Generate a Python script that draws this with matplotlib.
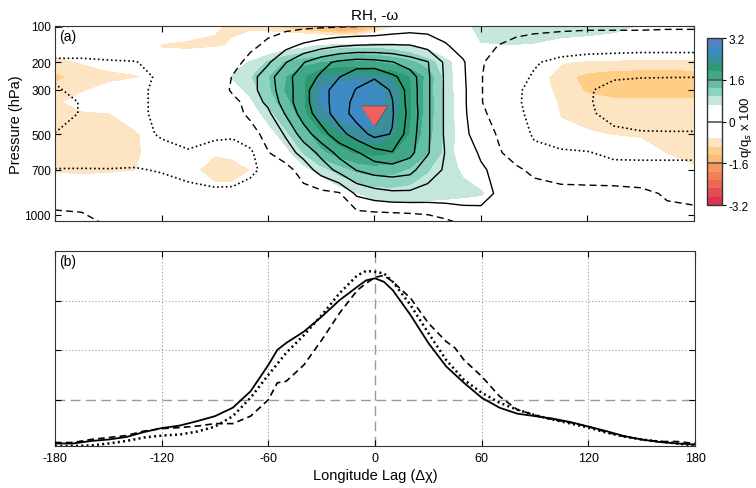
import numpy as np
import matplotlib
matplotlib.use('Agg')
import matplotlib.pyplot as plt

plt.rcParams['font.family'] = ['Liberation Sans', 'DejaVu Sans']
plt.rcParams['axes.unicode_minus'] = False

# ---- panel (a): composite on longitude lag / pressure grid ----
lon = [-180, -165, -150, -135, -120, -105, -90, -80, -70, -60, -50, -40, -30, -20, -10,
       0, 10, 20, 30, 40, 50, 60, 70, 80, 90, 105, 120, 135, 150, 165, 180]
pres = [100, 150, 200, 250, 300, 350, 400, 500, 600, 700, 850, 1050]

# RH anomaly (q/q_s x 100), one row per pressure level
rh = [
    [0, 0, 0, -0.1, -0.3, -0.45, -0.6, -0.7, -0.8, -0.95, -1.15, -1.35, -1.62, -1.95, -1.9,
     -1.3, -0.8, -0.5, -0.3, 0.1, 0.5, 0.8, 0.85, 0.88, 0.88, 0.86, 0.85, 0.8, 0.6, 0.2, 0],
    [-0.45, -0.35, -0.2, -0.35, -0.68, -0.72, -0.7, -0.6, -0.2, 0.2, 0.4, 0.5, 0.68, 0.8, 0.85,
     0.85, 0.8, 0.68, 0.5, 0.3, 0.45, 0.6, 0.62, 0.62, 0.6, 0.48, 0.4, 0.3, 0.1, 0.05, 0],
    [-0.75, -0.62, -0.5, -0.45, -0.4, -0.35, -0.1, 0.4, 0.68, 1.0, 1.3, 1.5, 1.58, 1.65, 1.65,
     1.62, 1.5, 1.35, 1.1, 0.75, 0.4, 0.2, 0.1, 0, -0.2, -0.6, -0.75, -0.78, -0.8, -0.8, -0.8],
    [-1.05, -0.85, -0.75, -0.68, -0.55, -0.3, 0.2, 0.68, 0.92, 1.25, 1.58, 1.85, 2.28, 2.4, 2.45,
     2.35, 2.2, 1.9, 1.5, 0.8, 0.4, 0.2, 0.1, 0, -0.4, -0.85, -1.05, -1.1, -1.12, -1.12, -1.1],
    [-0.85, -0.7, -0.5, -0.35, -0.3, -0.2, 0.2, 0.45, 0.75, 1.2, 1.62, 1.85, 2.6, 2.8, 2.85,
     2.75, 2.4, 1.95, 1.45, 0.85, 0.35, 0.25, 0.15, 0.05, -0.35, -0.8, -1.0, -1.1, -1.12, -1.12, -1.1],
    [-0.75, -0.45, -0.3, -0.2, -0.15, -0.1, 0.1, 0.3, 0.55, 1.05, 1.5, 1.85, 2.6, 2.82, 2.85,
     2.8, 2.4, 1.95, 1.45, 0.9, 0.35, 0.2, 0.1, 0, -0.2, -0.72, -0.85, -0.9, -0.9, -0.9, -0.9],
    [-0.8, -0.7, -0.66, -0.45, -0.3, -0.15, 0.05, 0.2, 0.4, 0.8, 1.3, 1.8, 2.4, 2.75, 2.82,
     2.7, 2.35, 1.95, 1.45, 0.9, 0.35, 0.2, 0.1, 0, -0.1, -0.68, -0.78, -0.8, -0.8, -0.82, -0.85],
    [-0.85, -0.85, -0.85, -0.7, -0.4, -0.2, -0.2, 0.1, 0.25, 0.45, 0.85, 1.4, 1.85, 2.15, 2.4,
     2.5, 2.3, 1.88, 1.4, 0.88, 0.4, 0.2, 0.1, 0, 0, -0.5, -0.6, -0.66, -0.68, -0.75, -0.8],
    [-0.8, -0.85, -0.82, -0.72, -0.4, -0.35, -0.6, -0.55, -0.2, 0.3, 0.5, 0.98, 1.5, 1.75, 1.95,
     2.0, 1.94, 1.68, 1.3, 0.85, 0.4, 0.3, 0.1, 0, 0, -0.2, -0.3, -0.4, -0.5, -0.66, -0.75],
    [-0.7, -0.72, -0.7, -0.66, -0.35, -0.5, -0.85, -0.8, -0.65, 0.1, 0.25, 0.5, 0.8, 1.1, 1.35,
     1.45, 1.4, 1.22, 0.98, 0.75, 0.6, 0.4, 0.2, 0, 0, -0.1, -0.1, -0.2, -0.3, -0.45, -0.6],
    [-0.3, -0.3, -0.3, -0.2, -0.1, -0.3, -0.45, -0.5, -0.3, 0, 0.05, 0.1, 0.2, 0.4, 0.62,
     0.75, 0.8, 0.8, 0.78, 0.75, 0.72, 0.68, 0.4, 0.2, 0, 0, 0, 0, 0, -0.1, -0.2],
    [0, 0, 0, 0, 0, 0, 0, 0, 0, 0, 0, 0, 0, 0.1, 0.2,
     0.25, 0.25, 0.25, 0.2, 0.2, 0.15, 0.1, 0, 0, 0, 0, 0, 0, 0, 0, 0],
]

# -omega, contour units
omega = [
    [0.05, -0.02, -0.1, -0.2, -0.3, -0.3, -0.35, -0.4, -0.4, -0.3, -0.25, -0.2, -0.15, -0.1, -0.05,
     0.02, 0.3, 0.5, 0.55, 0.5, 0.45, 0.4, 0.4, 0.35, 0.3, 0.25, 0.2, 0.2, 0.2, 0.15, 0.15],
    [-0.7, -0.7, -0.7, -0.7, -0.7, -0.75, -0.8, -0.6, -0.2, 0.2, 0.7, 1.2, 1.6, 1.9, 2.05,
     2.1, 2.1, 2.05, 1.7, 1.1, 0.6, 0.3, -0.02, -0.3, -0.5, -0.7, -0.8, -0.8, -0.8, -0.8, -0.8],
    [-1.1, -1.1, -1.05, -1.02, -0.85, -0.8, -0.75, -0.35, 0.3, 0.85, 1.95, 2.95, 3.7, 4.2, 4.45,
     4.35, 4.05, 3.5, 3.05, 1.8, 1.1, 0.1, -0.4, -0.7, -0.95, -1.15, -1.2, -1.25, -1.3, -1.3, -1.3],
    [-1.9, -1.75, -1.5, -1.2, -0.9, -0.85, -0.8, 0.05, 0.6, 1.6, 2.7, 3.5, 4.15, 4.95, 5.7,
     5.9, 5.2, 4.5, 3.15, 1.85, 1.15, 0.05, -0.5, -0.85, -1.05, -1.4, -1.7, -1.9, -1.95, -1.97, -1.98],
    [-2.1, -1.75, -1.4, -1.1, -0.9, -0.85, -0.9, 0.2, 0.6, 1.6, 2.5, 3.7, 4.6, 5.5, 6.05,
     6.5, 5.9, 4.6, 3.15, 1.85, 1.2, 0.05, -0.5, -0.9, -1.2, -1.55, -1.9, -2.3, -2.5, -2.5, -2.5],
    [-2.3, -1.95, -1.45, -1.1, -0.9, -0.8, -0.7, -0.4, 0.5, 1.2, 2.5, 3.7, 4.6, 5.5, 6.3,
     6.7, 6.05, 4.6, 3.15, 1.85, 1.2, 0.05, -0.5, -0.9, -1.25, -1.6, -1.9, -2.4, -2.6, -2.6, -2.6],
    [-2.3, -1.95, -1.5, -1.1, -0.9, -0.8, -0.75, -0.35, 0.2, 0.8, 2.1, 3.5, 4.5, 5.5, 6.4,
     6.6, 6.1, 4.7, 3.15, 1.85, 1.2, 0.2, -0.4, -0.85, -1.2, -1.55, -1.85, -2.3, -2.5, -2.5, -2.5],
    [-1.98, -1.7, -1.4, -1.15, -0.95, -0.8, -0.9, -0.9, -0.4, 0.35, 1.1, 2.5, 3.6, 4.6, 5.5,
     6.3, 5.95, 4.5, 3.15, 1.85, 1.25, 0.5, -0.1, -0.6, -1.1, -1.4, -1.6, -1.8, -1.9, -1.92, -1.92],
    [-1.6, -1.5, -1.4, -1.3, -1.15, -1.05, -1.2, -1.3, -1.2, -0.05, 0.6, 1.3, 2.3, 3.3, 3.9,
     4.6, 4.95, 4.3, 3.1, 1.95, 1.8, 0.8, 0.1, -0.4, -0.8, -0.9, -0.95, -1.2, -1.3, -1.3, -1.3],
    [-0.95, -0.95, -0.97, -0.95, -1.05, -1.25, -1.4, -1.35, -1.15, -0.8, -0.4, 0.5, 1.4, 2.3, 3.05,
     3.4, 3.5, 3.3, 2.4, 1.9, 1.7, 1.2, 0.6, 0.15, -0.2, -0.6, -0.7, -0.7, -0.6, -0.6, -0.6],
    [-0.8, -0.75, -0.7, -0.6, -0.65, -0.75, -0.85, -0.85, -0.7, -0.6, -0.5, -0.4, -0.25, -0.1, 1.2,
     1.6, 1.8, 1.8, 1.7, 1.6, 1.55, 1.5, 0.8, 0.6, 0.4, 0.4, 0.4, 0.35, 0.2, -0.1, -0.2],
    [0.6, 0.4, -0.2, -0.4, -0.5, -0.6, -0.7, -0.7, -0.7, -0.7, -0.7, -0.7, -0.75, -0.8, -0.85,
     -0.9, -0.9, -0.8, -0.6, -0.2, 0.2, 0.3, 0.3, 0.3, 0.3, 0.3, 0.3, 0.3, 0.3, 0.3, 0.3],
]

rh_levels = np.linspace(-3.2, 3.2, 21)
shade_colors = ['#db3358', '#e54c51', '#ee6752', '#f37f57', '#f7985f', '#fdb978', '#fecd86', '#fde4c2',
                'white', 'white', 'white', 'white',
                '#c4e6dd', '#8ed2c0', '#64bea6', '#40a888', '#2b9a72', '#3b8f9c', '#3e8bc4', '#5a7fc3']

# ---- panel (b): profiles vs longitude lag ----
lag_solid = [-180, -170, -160, -150, -140, -130, -120, -110, -100, -90, -80, -70, -60, -55, -50, -40,
             -30, -20, -10, -5, 0, 5, 10, 20, 30, 40, 50, 60, 70, 80, 90, 100, 110, 120, 130, 140,
             150, 160, 170, 180]
val_solid = [0.13, 0.13, 0.18, 0.21, 0.26, 0.36, 0.44, 0.49, 0.58, 0.68, 0.85, 1.18, 1.71, 2.01, 2.15, 2.38,
             2.68, 3.01, 3.28, 3.41, 3.45, 3.38, 3.21, 2.71, 2.15, 1.68, 1.35, 1.05, 0.85, 0.73, 0.68, 0.63,
             0.56, 0.47, 0.38, 0.28, 0.21, 0.16, 0.13, 0.11]

lag_dotted = [-180, -170, -160, -150, -140, -130, -120, -110, -100, -90, -80, -70, -60, -50, -40, -30,
              -20, -10, -5, 0, 5, 10, 20, 30, 40, 50, 60, 70, 80, 90, 100, 110, 120, 130, 140, 150,
              160, 170, 180]
val_dotted = [0.08, 0.08, 0.09, 0.13, 0.18, 0.25, 0.29, 0.31, 0.37, 0.47, 0.68, 1.05, 1.51, 1.95, 2.31, 2.71,
              3.15, 3.51, 3.60, 3.58, 3.55, 3.38, 2.91, 2.35, 1.81, 1.41, 1.15, 0.95, 0.81, 0.70, 0.61, 0.53,
              0.45, 0.35, 0.27, 0.21, 0.17, 0.13, 0.09]

lag_dashed = [-180, -170, -160, -150, -140, -130, -120, -110, -100, -90, -80, -70, -60, -55, -50, -40,
              -30, -20, -10, -5, 0, 5, 10, 20, 30, 40, 45, 50, 60, 70, 80, 90, 100, 110, 120, 130,
              140, 150, 160, 170, 180]
val_dashed = [0.15, 0.15, 0.21, 0.25, 0.29, 0.38, 0.43, 0.45, 0.48, 0.53, 0.53, 0.68, 1.01, 1.35, 1.38, 1.71,
              2.21, 2.75, 3.21, 3.35, 3.47, 3.51, 3.38, 3.05, 2.55, 2.18, 2.05, 1.81, 1.48, 1.08, 0.81, 0.70,
              0.61, 0.55, 0.47, 0.36, 0.27, 0.21, 0.17, 0.17, 0.13]


def fwd(p):
    return np.sqrt(np.clip(p, 1e-6, None))


def inv(s):
    return np.square(s)


fig = plt.figure(figsize=(7.56, 4.89), dpi=100)
ax1 = fig.add_axes([0.0728, 0.546, 0.845, 0.3988])
ax2 = fig.add_axes([0.0728, 0.0859, 0.8466, 0.3988])
cax = fig.add_axes([0.9347, 0.5787, 0.0206, 0.3415])

# top panel
ax1.set_yscale('function', functions=(fwd, inv))
X, P = np.meshgrid(lon, pres)
cf = ax1.contourf(X, P, np.array(rh), levels=rh_levels, colors=shade_colors)
w = np.array(omega)
cs_neg = ax1.contour(X, P, w, levels=[-2, -1], colors='k', linewidths=1.2)
cs_neg.set_linestyle((0, (1, 1.6)))
cs_zero = ax1.contour(X, P, w, levels=[0], colors='k', linewidths=1.0)
cs_zero.set_linestyle((0, (5, 3)))
ax1.contour(X, P, w, levels=[1, 2, 3, 4, 5, 6], colors='k', linewidths=1.0, linestyles='solid')

tri = [(-1, 0.57), (1, 0.57), (0, -1)]
ax1.plot([0], [400], marker=tri, ms=19.4, mfc='#f0605c', mec='#555555', mew=0.6, ls='none', zorder=6)

ax1.set_xlim(-180, 180)
ax1.set_ylim(1044, 100)
ax1.set_xticks([-180, -120, -60, 0, 60, 120, 180])
ax1.set_xticklabels([])
ax1.set_yticks([100, 200, 300, 500, 700, 1000])
ax1.set_yticklabels(['100', '200', '300', '500', '700', '1000'])
ax1.yaxis.set_minor_locator(matplotlib.ticker.NullLocator())
ax1.tick_params(direction='in', top=True, right=True, length=4, width=0.8, labelsize=8.5, pad=3)
ax1.set_ylabel('Pressure (hPa)', fontsize=10.5, labelpad=1)
ax1.set_title('RH, -\u03c9', fontsize=11, pad=5)
ax1.text(0.006, 0.985, '(a)', transform=ax1.transAxes, fontsize=10, va='top', ha='left')
for s in ax1.spines.values():
    s.set_linewidth(0.8)
    s.set_color('#333333')

cb = fig.colorbar(cf, cax=cax, ticks=[-3.2, -1.6, 0, 1.6, 3.2])
cb.ax.set_yticklabels(['-3.2', '-1.6', '0', '1.6', '3.2'])
cb.ax.tick_params(labelsize=8.5, length=3, width=0.8, pad=1.5)
cb.outline.set_linewidth(1.0)
cb.outline.set_edgecolor('#333333')
for v in [-1.6, 0, 1.6]:
    cb.ax.axhline(v, color='#555555', lw=1.2)
cb.ax.text(2.55, 0.47, 'q/q$_s$ x 100', transform=cb.ax.transAxes, rotation=90,
           ha='center', va='center', fontsize=9.5)

# bottom panel
grid_c = '#9a9a9a'
for xv in [-120, -60, 60, 120]:
    ax2.axvline(xv, color=grid_c, lw=0.8, ls=(0, (1, 2)), zorder=1)
for yv in [2, 3]:
    ax2.axhline(yv, color=grid_c, lw=0.8, ls=(0, (1, 2)), zorder=1)
ax2.axvline(0, color=grid_c, lw=1.0, ls=(0, (7, 4)), zorder=1)
ax2.axhline(1, color=grid_c, lw=1.0, ls=(0, (7, 4)), zorder=1)

ax2.plot(lag_solid, val_solid, color='k', lw=1.3, zorder=3)
ax2.plot(lag_dotted, val_dotted, color='k', lw=1.8, ls=(0, (0.8, 1.3)), zorder=3)
ax2.plot(lag_dashed, val_dashed, color='k', lw=1.2, ls=(0, (4, 2.5)), zorder=3)

ax2.set_xlim(-180, 180)
ax2.set_ylim(0.08, 4.0)
ax2.set_xticks([-180, -120, -60, 0, 60, 120, 180])
ax2.set_xticklabels(['-180', '-120', '-60', '0', '60', '120', '180'])
ax2.set_yticks([1, 2, 3])
ax2.set_yticklabels([])
ax2.tick_params(direction='in', top=True, right=True, length=4, width=0.8, labelsize=9, pad=4)
ax2.set_xlabel('Longitude Lag (\u0394\u03c7)', fontsize=10.5, labelpad=3)
ax2.text(0.006, 0.985, '(b)', transform=ax2.transAxes, fontsize=10, va='top', ha='left')
for s in ax2.spines.values():
    s.set_linewidth(0.8)
    s.set_color('#333333')

fig.savefig('out.png', dpi=100)
